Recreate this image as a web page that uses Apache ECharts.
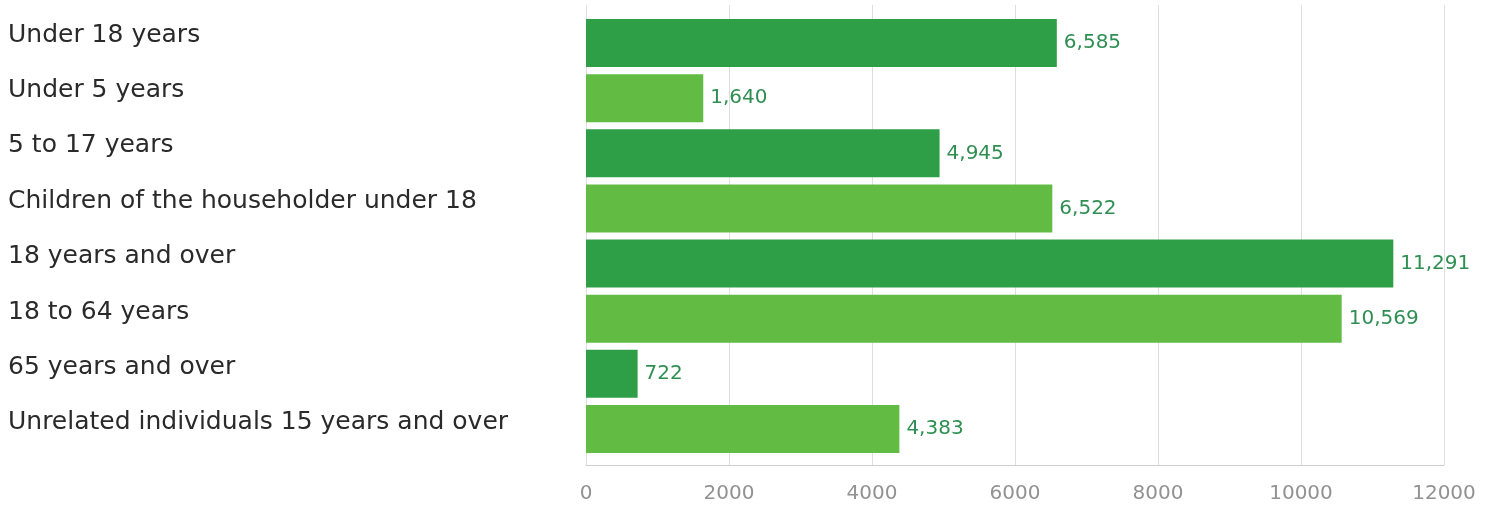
<!DOCTYPE html>
<html>
<head>
<meta charset="utf-8">
<style>
  html, body { margin: 0; padding: 0; background: #fff; }
  #chart { width: 1496px; height: 506px; }
</style>
<script src="https://cdn.jsdelivr.net/npm/echarts@6/dist/echarts.min.js"></script>
</head>
<body>
<div id="chart"></div>
<script>
// Population groups and their counts
const categories = [
  'Under 18 years',
  'Under 5 years',
  '5 to 17 years',
  'Children of the householder under 18',
  '18 years and over',
  '18 to 64 years',
  '65 years and over',
  'Unrelated individuals 15 years and over'
];
const values = [6585, 1640, 4945, 6522, 11291, 10569, 722, 4383];
const xTicks = [0, 2000, 4000, 6000, 8000, 10000, 12000];

const darkGreen = '#2F9F47';
const lightGreen = '#62BC44';
const fmt = v => v.toLocaleString('en-US');

const chart = echarts.init(document.getElementById('chart'), null, { renderer: 'canvas' });

chart.setOption({
  animation: false,
  grid: [
    // frame grid: gridlines, axis line and tick labels
    { left: 586, right: 52, top: 5, bottom: 41 },
    // bar grid
    { left: 586, right: 52, top: 15.5, height: 441 },
    // category label grid, sitting a little above the bars
    { left: 586, right: 52, top: 7.5, height: 443 }
  ],
  xAxis: [
    {
      gridIndex: 0, type: 'value',
      min: xTicks[0], max: xTicks[xTicks.length - 1], interval: 2000,
      axisLine: { show: true, lineStyle: { color: '#cfcfcf', width: 1 } },
      axisTick: { show: false },
      splitLine: { show: true, lineStyle: { color: '#dedede', width: 1 } },
      axisLabel: {
        color: '#929292', fontSize: 20, margin: 19,
        fontFamily: '"DejaVu Sans", sans-serif',
        formatter: v => String(v)
      }
    },
    {
      gridIndex: 1, type: 'value',
      min: xTicks[0], max: xTicks[xTicks.length - 1],
      show: false, splitLine: { show: false }
    },
    {
      gridIndex: 2, type: 'value',
      min: xTicks[0], max: xTicks[xTicks.length - 1],
      show: false, splitLine: { show: false }
    }
  ],
  yAxis: [
    {
      gridIndex: 0, type: 'category', data: categories, inverse: true,
      show: false
    },
    {
      gridIndex: 1, type: 'category', data: categories, inverse: true,
      axisLine: { show: false }, axisTick: { show: false },
      axisLabel: { show: false }
    },
    {
      gridIndex: 2, type: 'category', data: categories, inverse: true,
      axisLine: { show: false }, axisTick: { show: false },
      splitLine: { show: false },
      axisLabel: {
        align: 'left', margin: 578,
        color: '#2a2a2a', fontSize: 25,
        fontFamily: '"DejaVu Sans", sans-serif'
      }
    }
  ],
  series: [{
    type: 'bar',
    xAxisIndex: 1, yAxisIndex: 1,
    data: values.map((v, i) => ({
      value: v,
      itemStyle: { color: i % 2 === 0 ? darkGreen : lightGreen }
    })),
    barWidth: 48,
    label: {
      show: true, position: 'right', distance: 7,
      color: '#2F8F52', fontSize: 20,
      fontFamily: '"DejaVu Sans", sans-serif',
      formatter: p => fmt(p.value)
    }
  }]
});
</script>
</body>
</html>
